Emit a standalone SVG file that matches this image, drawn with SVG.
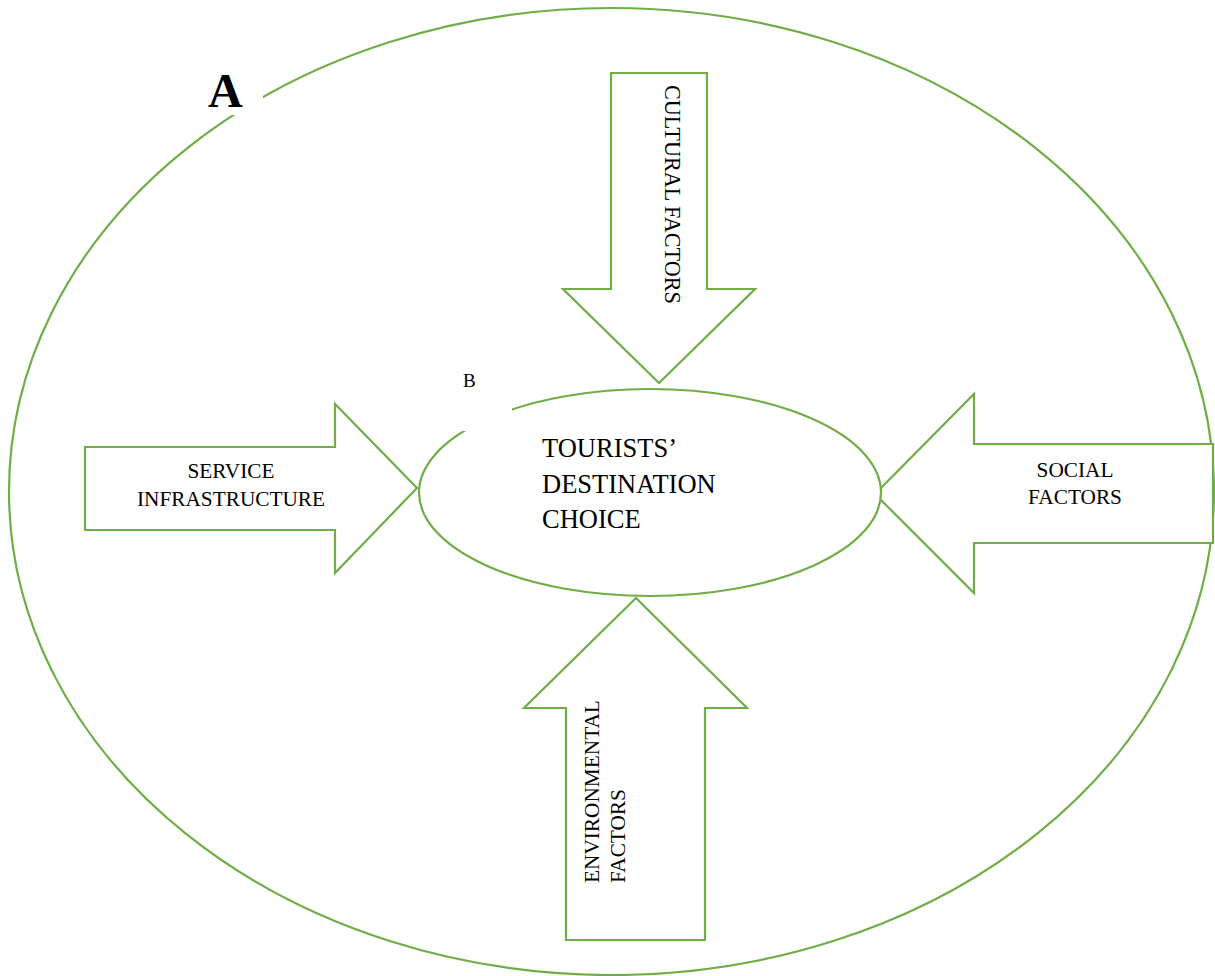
<svg xmlns="http://www.w3.org/2000/svg" width="1215" height="976" viewBox="0 0 1215 976">
<style>
.shape{fill:#fff;stroke:#70AD47;stroke-width:2.2;stroke-linejoin:miter}
.outline{fill:none;stroke:#70AD47;stroke-width:2.2}
.lbl{font-family:"Liberation Serif","Times New Roman",serif;font-size:21.3px;fill:#000}
.big{font-family:"Liberation Serif","Times New Roman",serif;font-size:26.5px;fill:#000}
.mask{fill:#fff;stroke:none}
</style>
<rect width="1215" height="976" fill="#fff"/>
<g id="outer-A">
<ellipse class="outline" cx="611.5" cy="491.5" rx="602.5" ry="483.5"/>
<rect class="mask" x="198" y="58" width="65" height="57"/>
<text x="208" y="107" style="font-family:'Liberation Serif','Times New Roman',serif;font-size:48px;font-weight:bold">A</text>
</g>
<g id="connectors">
<g id="cultural">
<polygon class="shape" points="611,73 707,73 707,289 755,289 659,383 563,289 611,289"/>
<text class="lbl" style="font-size:22.2px" transform="translate(665,85) rotate(90)">CULTURAL FACTORS</text>
</g>
<g id="service">
<polygon class="shape" points="85,447 335,447 335,404 417,488 335,573 335,530 85,530"/>
<text class="lbl" text-anchor="middle" x="231" y="478">SERVICE</text>
<text class="lbl" text-anchor="middle" x="231" y="506">INFRASTRUCTURE</text>
</g>
<g id="social">
<polygon class="shape" points="1213,444 974,444 974,394 875,494 974,593 974,543 1213,543"/>
<text class="lbl" text-anchor="middle" x="1075" y="477">SOCIAL</text>
<text class="lbl" text-anchor="middle" x="1075" y="504">FACTORS</text>
</g>
<g id="environmental">
<polygon class="shape" points="566,940 566,708 524,708 636,598 747,708 705,708 705,940"/>
<text class="lbl" transform="translate(599,883) rotate(-90)">ENVIRONMENTAL</text>
<text class="lbl" transform="translate(625,883) rotate(-90)">FACTORS</text>
</g>
</g>
<g id="inner-B">
<ellipse class="shape" cx="650" cy="492.5" rx="231" ry="103.5"/>
<rect class="mask" x="440" y="362" width="72" height="69"/>
<text x="463" y="387" style="font-family:'Liberation Serif','Times New Roman',serif;font-size:19px">B</text>
<text class="big" x="542" y="457">TOURISTS’</text>
<text class="big" x="542" y="493">DESTINATION</text>
<text class="big" x="542" y="528">CHOICE</text>
</g>
</svg>
